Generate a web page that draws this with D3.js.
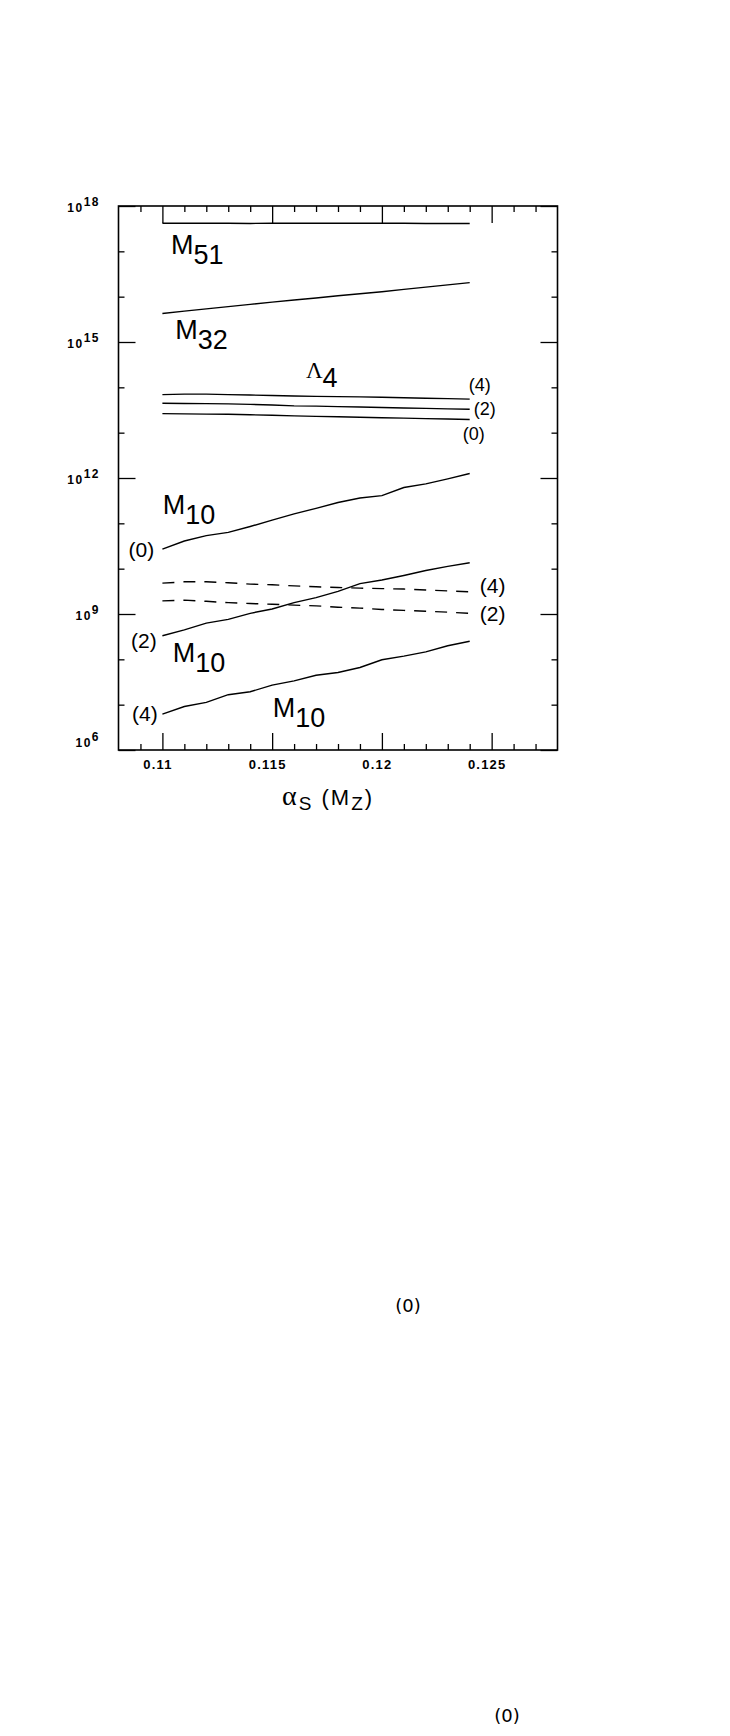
<!DOCTYPE html>
<html>
<head>
<meta charset="utf-8">
<script src="https://cdn.jsdelivr.net/npm/d3@7"></script>
<style>
  body { margin: 0; background: #fff; }
  text { font-family: "Liberation Sans", Arial, sans-serif; fill: #000; }
</style>
</head>
<body>
<div id="chart"></div>
<script>
const W = 730;
const H = 1736;

// alpha_s(M_Z) sample points
const alphaS = [0.110, 0.111, 0.112, 0.113, 0.114, 0.115, 0.116, 0.117, 0.118, 0.119, 0.120, 0.121, 0.122, 0.123, 0.124];

// log10 of the scales (GeV)
const m51 = [17.62, 17.62, 17.62, 17.618, 17.615, 17.62, 17.62, 17.618, 17.618, 17.618, 17.62, 17.618, 17.615, 17.615, 17.615];
const m32 = [15.63, 15.68, 15.73, 15.78, 15.83, 15.88, 15.925, 15.97, 16.02, 16.065, 16.11, 16.16, 16.21, 16.26, 16.31];
const lambda4_4 = [13.84, 13.85, 13.85, 13.84, 13.83, 13.82, 13.81, 13.80, 13.795, 13.79, 13.78, 13.77, 13.76, 13.75, 13.74];
const lambda4_2 = [13.65, 13.645, 13.64, 13.635, 13.625, 13.61, 13.59, 13.585, 13.575, 13.565, 13.555, 13.545, 13.535, 13.525, 13.515];
const lambda4_0 = [13.42, 13.415, 13.41, 13.405, 13.395, 13.385, 13.37, 13.36, 13.35, 13.34, 13.33, 13.32, 13.31, 13.30, 13.29];
const m10_0 = [10.43, 10.61, 10.73, 10.80, 10.93, 11.07, 11.21, 11.33, 11.46, 11.56, 11.61, 11.79, 11.87, 11.98, 12.10];
const dashed_4 = [9.68, 9.71, 9.71, 9.69, 9.66, 9.645, 9.62, 9.60, 9.585, 9.57, 9.56, 9.55, 9.53, 9.51, 9.49];
const dashed_2 = [9.29, 9.305, 9.28, 9.25, 9.23, 9.215, 9.195, 9.18, 9.15, 9.13, 9.10, 9.08, 9.06, 9.04, 9.015];
const m10_2 = [8.52, 8.65, 8.80, 8.88, 9.015, 9.11, 9.25, 9.36, 9.50, 9.67, 9.75, 9.85, 9.96, 10.05, 10.13];
const m10_4 = [6.79, 6.96, 7.05, 7.22, 7.285, 7.43, 7.525, 7.65, 7.71, 7.82, 7.99, 8.07, 8.165, 8.30, 8.40];

// ticks
const xMajor = [0.11, 0.115, 0.12, 0.125];
const xTickLabels = ["0.11", "0.115", "0.12", "0.125"];
const yMajorExp = [18, 15, 12, 9, 6];

window.onload = function() {

    const svg = d3.select("#chart")
        .append("svg")
        .attr("width", W)
        .attr("height", H);

    const x = d3.scaleLinear().domain([0.108, 0.128]).range([118.5, 557.5]);
    const y = d3.scaleLog().domain([1e6, 1e18]).range([750, 206]);

    const xMinor = d3.range(109, 128).map(d => d / 1000).filter(d => !xMajor.some(m => Math.abs(m - d) < 1e-9));
    const yMinor = d3.range(6, 19).filter(e => !yMajorExp.includes(e)).map(e => Math.pow(10, e));
    const yMajor = yMajorExp.map(e => Math.pow(10, e));

    function tickGroup(axis, tx, ty) {
        const g = svg.append("g")
            .attr("transform", `translate(${tx},${ty})`)
            .call(axis);
        g.select(".domain").remove();
        g.selectAll("line").attr("stroke", "#000").attr("stroke-width", 1.3);
        return g;
    }

    // bottom / top ticks
    tickGroup(d3.axisBottom(x).tickValues(xMinor).tickSize(-6).tickFormat(""), 0, 750);
    tickGroup(d3.axisTop(x).tickValues(xMinor).tickSize(-6).tickFormat(""), 0, 206);
    tickGroup(d3.axisTop(x).tickValues(xMajor).tickSize(-17).tickFormat(""), 0, 206);
    const bottomMajor = tickGroup(d3.axisBottom(x).tickValues(xMajor).tickSize(-17).tickPadding(10)
        .tickFormat((d, i) => xTickLabels[i]), 0, 750);
    bottomMajor.selectAll("text")
        .attr("dx", -5)
        .style("font-size", "13px")
        .style("font-weight", "bold")
        .style("letter-spacing", "1.2px")
        .style("font-family", "'Liberation Sans', Arial, sans-serif");

    // left / right ticks
    tickGroup(d3.axisLeft(y).tickValues(yMinor).tickSize(-6).tickFormat(""), 118.5, 0);
    tickGroup(d3.axisLeft(y).tickValues(yMajor).tickSize(-17).tickFormat(""), 118.5, 0);
    tickGroup(d3.axisRight(y).tickValues(yMinor).tickSize(-6).tickFormat(""), 557.5, 0);
    tickGroup(d3.axisRight(y).tickValues(yMajor).tickSize(-17).tickFormat(""), 557.5, 0);

    // y tick labels 10^n
    yMajorExp.forEach(function(e) {
        const off = e === 6 ? -3 : 6;
        const t = svg.append("text")
            .attr("x", 100)
            .attr("y", y(Math.pow(10, e)) + off)
            .attr("text-anchor", "end")
            .style("font-size", "12px")
            .style("font-weight", "bold")
            .style("letter-spacing", "1.5px");
        t.append("tspan").text("10");
        t.append("tspan").attr("dy", -6).text(e);
    });

    // frame
    svg.append("rect")
        .attr("x", 118.5)
        .attr("y", 206)
        .attr("width", 439)
        .attr("height", 544)
        .attr("fill", "none")
        .attr("stroke", "#000")
        .attr("stroke-width", 1.6);

    const line = d3.line()
        .x((d, i) => x(alphaS[i]))
        .y(d => y(Math.pow(10, d)));

    const curves = [
        {values: m51, dash: null},
        {values: m32, dash: null},
        {values: lambda4_4, dash: null},
        {values: lambda4_2, dash: null},
        {values: lambda4_0, dash: null},
        {values: m10_0, dash: null},
        {values: dashed_4, dash: "12,9"},
        {values: dashed_2, dash: "12,9"},
        {values: m10_2, dash: null},
        {values: m10_4, dash: null}
    ];

    svg.selectAll("path.curve")
        .data(curves)
        .enter()
        .append("path")
        .attr("class", "curve")
        .attr("d", d => line(d.values))
        .attr("fill", "none")
        .attr("stroke", "#000")
        .attr("stroke-width", 1.4)
        .attr("stroke-dasharray", d => d.dash);

    // curve end labels
    const first = alphaS[0];
    const last = alphaS[alphaS.length - 1];
    const endLabels = [
        {text: "(4)", a: last, v: lambda4_4[14], dx: 10, dy: -8, size: 18},
        {text: "(2)", a: last, v: lambda4_2[14], dx: 15, dy: 6, size: 18},
        {text: "(0)", a: last, v: lambda4_0[14], dx: 4, dy: 20, size: 18},
        {text: "(0)", a: first, v: m10_0[0], dx: -21, dy: 8, size: 21},
        {text: "(2)", a: first, v: m10_2[0], dx: -18.5, dy: 12, size: 21},
        {text: "(4)", a: first, v: m10_4[0], dx: -17.5, dy: 7, size: 21},
        {text: "(4)", a: last, v: dashed_4[14], dx: 23, dy: 1, size: 21},
        {text: "(2)", a: last, v: dashed_2[14], dx: 23, dy: 8, size: 21}
    ];

    svg.selectAll("text.end-label")
        .data(endLabels)
        .enter()
        .append("text")
        .attr("class", "end-label")
        .attr("x", d => x(d.a) + d.dx)
        .attr("y", d => y(Math.pow(10, d.v)) + d.dy)
        .attr("text-anchor", "middle")
        .style("font-size", d => d.size + "px")
        .text(d => d.text);

    // curve names: main symbol + subscript, placed in data coordinates
    const names = [
        {main: "M", sub: "51", a: 0.11048, v: 16.94},
        {main: "M", sub: "32", a: 0.11068, v: 15.06},
        {main: "\u039B", sub: "4", a: 0.11663, v: 14.21, serif: true},
        {main: "M", sub: "10", a: 0.11011, v: 11.21},
        {main: "M", sub: "10", a: 0.11056, v: 7.95},
        {main: "M", sub: "10", a: 0.11512, v: 6.735}
    ];

    names.forEach(function(n) {
        const t = svg.append("text")
            .attr("x", x(n.a) - 2)
            .attr("y", y(Math.pow(10, n.v)))
            .style("font-size", "27px");
        const m = t.append("tspan").text(n.main);
        if (n.serif) {
            m.style("font-family", "'Liberation Serif', 'Times New Roman', serif").style("font-size", "23px");
        }
        t.append("tspan").attr("dy", n.serif ? 9 : 10).text(n.sub);
    });

    // x axis title
    const title = svg.append("text")
        .attr("x", 282)
        .attr("y", 805)
        .style("font-size", "22px")
        .style("letter-spacing", "2px");
    title.append("tspan").text("\u03B1")
        .style("font-family", "'Liberation Serif', 'Times New Roman', serif")
        .style("font-size", "28px");
    title.append("tspan").attr("dy", 5).style("font-size", "19px").text("S");
    title.append("tspan").attr("dy", -5).text(" (M");
    title.append("tspan").attr("dy", 5).style("font-size", "19px").text("Z");
    title.append("tspan").attr("dy", -5).text(")");

    // stray labels below the plot
    svg.append("text")
        .attr("x", 408)
        .attr("y", 1312)
        .attr("text-anchor", "middle")
        .style("font-family", "'DejaVu Sans', sans-serif")
        .style("font-size", "18px")
        .text("(0)");
    svg.append("text")
        .attr("x", 507)
        .attr("y", 1722)
        .attr("text-anchor", "middle")
        .style("font-family", "'DejaVu Sans', sans-serif")
        .style("font-size", "18px")
        .text("(0)");
};
</script>
</body>
</html>
